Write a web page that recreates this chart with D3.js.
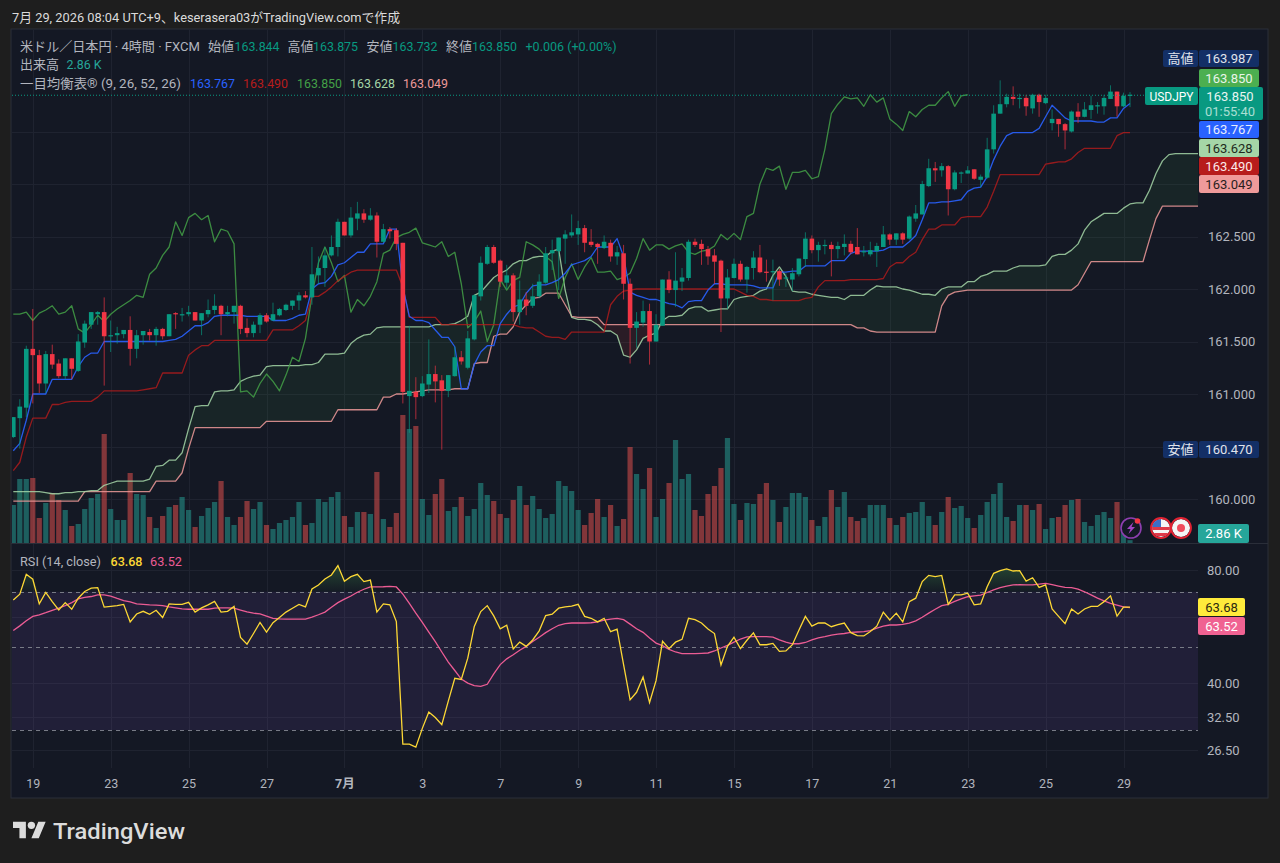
<!DOCTYPE html>
<html lang="ja">
<head>
<meta charset="utf-8">
<title>USDJPY 4H</title>
<script src="https://cdn.jsdelivr.net/npm/d3@7"></script>
<style>
html,body{margin:0;padding:0;background:#1e1e1e;overflow:hidden}
svg{display:block}
text{font-family:Roboto,"Noto Sans CJK JP",sans-serif}
</style>
</head>
<body>
<svg id="c" width="1280" height="863"></svg>
<script>
const open = [
160.59,160.77,160.87,161.43,161.37,161.10,161.38,161.29,161.17,161.34,
161.22,161.49,161.66,161.76,161.78,161.55,161.56,161.57,161.61,161.43,
161.56,161.59,161.56,161.62,161.55,161.77,161.75,161.76,161.78,161.70,
161.76,161.80,161.84,161.76,161.78,161.84,161.63,161.58,161.66,161.75,
161.70,161.75,161.80,161.84,161.89,161.94,161.92,162.13,162.20,162.32,
162.40,162.64,162.51,162.67,162.72,162.66,162.70,162.45,162.57,162.56,
162.44,160.98,161.02,160.98,161.09,161.19,161.13,161.03,161.17,161.35,
161.25,161.52,161.93,162.24,162.40,162.27,162.06,162.13,161.78,161.90,
161.84,161.93,162.06,162.34,162.36,162.48,162.51,162.52,162.58,162.45,
162.43,162.39,162.44,162.31,162.34,162.05,161.63,161.68,161.79,161.50,
161.65,162.09,161.99,162.07,162.105,162.45,162.43,162.38,162.32,162.27,
161.91,162.105,162.24,162.09,162.20,162.30,162.165,162.16,162.17,162.10,
162.09,162.14,162.285,162.48,162.37,162.41,162.42,162.38,162.40,162.43,
162.40,162.35,162.33,162.36,162.40,162.52,162.47,162.53,162.48,162.67,
162.71,162.98,163.15,163.13,163.17,162.95,163.10,163.10,163.14,163.04,
163.06,163.33,163.67,163.76,163.83,163.81,163.82,163.72,163.85,163.77,
163.58,163.62,163.57,163.50,163.69,163.64,163.705,163.743,163.74,163.81,
163.88,163.74,163.844];
const high = [
160.78,160.95,161.46,161.81,161.42,161.41,161.47,161.33,161.34,161.34,
161.57,161.70,161.78,161.79,161.92,161.70,161.64,161.61,161.74,161.61,
161.60,161.62,161.64,161.63,161.76,161.78,161.82,161.84,161.78,161.77,
161.90,161.95,161.85,161.84,161.84,161.85,161.72,161.69,161.77,161.77,
161.87,161.82,161.86,161.89,161.97,161.98,162.40,162.31,162.40,162.51,
162.67,162.64,162.78,162.83,162.76,162.77,162.73,162.62,162.59,162.58,
162.44,161.65,161.16,161.17,161.52,161.27,161.18,161.18,161.45,161.41,
161.60,161.95,162.31,162.42,162.42,162.28,162.23,162.15,162.08,161.97,
162.05,162.14,162.40,162.47,162.49,162.56,162.71,162.65,162.61,162.57,
162.44,162.51,162.47,162.41,162.42,162.10,161.78,161.89,161.86,161.76,
162.09,162.17,162.35,162.20,162.47,162.48,162.47,162.41,162.38,162.28,
162.19,162.29,162.27,162.22,162.36,162.42,162.28,162.28,162.19,162.15,
162.20,162.29,162.54,162.51,162.45,162.47,162.45,162.45,162.52,162.46,
162.58,162.41,162.45,162.44,162.60,162.53,162.53,162.54,162.70,162.80,
163.03,163.24,163.21,163.20,163.18,163.13,163.12,163.17,163.14,163.09,
163.44,163.75,163.987,163.86,163.93,163.86,163.85,163.86,163.86,163.85,
163.71,163.62,163.58,163.70,163.77,163.78,163.84,163.78,163.85,163.94,
163.88,163.87,163.875];
const low = [
160.58,160.48,160.78,160.91,161.01,161.01,161.24,161.15,161.14,161.14,
161.21,161.44,161.62,161.66,161.08,161.40,161.48,161.53,161.27,161.34,
161.47,161.51,161.46,161.52,161.55,161.62,161.69,161.74,161.70,161.56,
161.73,161.76,161.56,161.74,161.67,161.57,161.54,161.54,161.58,161.68,
161.70,161.74,161.79,161.80,161.80,161.91,161.85,162.05,162.02,162.31,
162.31,162.51,162.49,162.56,162.63,162.65,162.30,162.44,162.48,162.37,
160.91,160.63,160.76,160.97,161.01,160.92,160.47,160.97,161.165,161.28,
161.235,161.51,161.89,162.23,162.24,162.02,162.00,161.69,161.66,161.75,
161.82,161.91,162.05,162.18,161.99,162.24,162.49,162.42,162.35,162.40,
162.24,162.38,162.26,162.23,161.90,161.29,161.44,161.64,161.28,161.50,
161.65,161.96,161.83,161.98,162.08,162.40,162.23,162.23,162.05,161.59,
161.81,162.10,162.07,161.965,162.09,162.15,162.07,161.89,162.03,162.02,
161.98,162.12,162.21,162.34,162.26,162.33,162.12,162.29,162.32,162.33,
162.33,162.31,162.31,162.21,162.40,162.42,162.42,162.43,162.47,162.64,
162.71,162.97,163.02,163.07,162.70,162.94,163.01,163.10,163.04,162.97,
163.05,163.29,163.67,163.73,163.75,163.72,163.65,163.67,163.64,163.76,
163.51,163.45,163.33,163.49,163.58,163.635,163.62,163.67,163.66,163.81,
163.64,163.73,163.732];
const close = [
160.78,160.88,161.43,161.37,161.10,161.38,161.28,161.17,161.34,161.24,
161.50,161.67,161.78,161.78,161.55,161.56,161.58,161.61,161.43,161.56,
161.60,161.56,161.62,161.55,161.76,161.76,161.76,161.78,161.70,161.77,
161.80,161.84,161.76,161.78,161.84,161.62,161.58,161.66,161.75,161.69,
161.76,161.81,161.85,161.89,161.94,161.92,162.14,162.20,162.32,162.40,
162.64,162.51,162.68,162.72,162.66,162.70,162.45,162.57,162.55,162.43,
161.02,161.03,160.97,161.10,161.19,161.12,161.03,161.18,161.35,161.31,
161.53,161.94,162.25,162.40,162.25,162.07,162.13,161.78,161.90,161.84,
161.93,162.07,162.34,162.37,162.49,162.52,162.54,162.58,162.44,162.42,
162.40,162.45,162.31,162.35,162.05,161.63,161.69,161.79,161.50,161.66,
162.09,161.99,162.08,162.11,162.45,162.42,162.38,162.31,162.26,161.91,
162.11,162.24,162.09,162.21,162.30,162.16,162.16,162.17,162.09,162.11,
162.15,162.29,162.48,162.37,162.42,162.42,162.38,162.41,162.43,162.35,
162.33,162.36,162.37,162.41,162.52,162.47,162.53,162.47,162.69,162.72,
163.00,163.15,163.13,163.17,162.95,163.11,163.11,163.13,163.05,163.07,
163.33,163.67,163.76,163.83,163.81,163.82,163.74,163.85,163.78,163.82,
163.62,163.57,163.51,163.69,163.64,163.71,163.75,163.75,163.82,163.88,
163.74,163.84,163.85];
const volume = [
38,64,64,65,25,40,50,43,33,17,
19,34,45,49,109,34,23,23,70,49,
48,26,15,27,36,38,46,33,16,27,
35,41,62,26,18,26,42,34,41,18,
14,20,23,26,41,18,20,44,41,46,
51,27,16,31,31,29,71,24,16,30,
128,114,117,44,28,49,64,32,36,46,
27,34,60,48,42,29,25,43,57,38,
47,34,25,29,62,57,52,33,18,30,
44,26,38,17,24,96,69,54,75,26,
44,60,103,64,69,33,27,49,57,75,
105,39,23,40,39,49,60,43,21,36,
50,50,46,23,17,26,53,36,51,26,
22,25,38,38,38,25,18,26,30,31,
41,27,18,31,46,35,37,25,15,28,
41,49,60,26,22,38,38,33,39,14,
25,26,38,43,44,21,17,28,31,25,
41,12,2.86];
const tenkan = [
160.46,160.53,160.75,161.00,161.00,161.00,161.14,161.14,161.14,161.14,
161.26,161.35,161.39,161.39,161.50,161.50,161.50,161.50,161.50,161.50,
161.50,161.50,161.50,161.50,161.51,161.52,161.55,161.60,161.65,161.65,
161.68,161.74,161.75,161.75,161.75,161.75,161.74,161.74,161.74,161.74,
161.70,161.70,161.70,161.72,161.75,161.76,162.00,162.05,162.06,162.12,
162.23,162.25,162.30,162.35,162.35,162.43,162.43,162.43,162.57,162.57,
162.02,161.74,161.70,161.70,161.68,161.61,161.54,161.54,161.45,161.05,
161.05,161.28,161.40,161.46,161.46,161.67,161.76,161.83,161.85,161.96,
162.03,162.04,162.04,162.06,162.09,162.15,162.23,162.25,162.27,162.31,
162.40,162.40,162.40,162.48,162.31,161.97,161.94,161.92,161.90,161.90,
161.88,161.86,161.85,161.82,161.88,161.89,161.89,161.99,162.05,162.05,
162.04,162.04,162.04,162.04,162.03,162.01,162.01,162.01,162.16,162.16,
162.17,162.17,162.22,162.22,162.22,162.22,162.27,162.27,162.27,162.34,
162.36,162.36,162.36,162.36,162.37,162.40,162.40,162.40,162.45,162.51,
162.66,162.82,162.82,162.83,162.83,162.84,162.85,162.93,162.96,162.97,
163.07,163.23,163.36,163.46,163.49,163.49,163.49,163.49,163.53,163.64,
163.75,163.69,163.63,163.60,163.60,163.60,163.60,163.59,163.59,163.63,
163.63,163.72,163.767];
const kijun = [
160.27,160.35,160.59,160.77,160.77,160.77,160.90,160.90,160.92,160.93,
160.93,160.93,160.93,160.97,161.03,161.03,161.03,161.03,161.03,161.03,
161.04,161.05,161.06,161.20,161.20,161.20,161.20,161.37,161.42,161.46,
161.46,161.51,161.51,161.51,161.51,161.51,161.51,161.51,161.51,161.51,
161.61,161.61,161.61,161.61,161.65,161.70,161.93,161.93,161.97,162.02,
162.08,162.12,162.16,162.18,162.18,162.18,162.18,162.18,162.18,162.18,
162.02,161.73,161.73,161.73,161.73,161.73,161.66,161.66,161.66,161.66,
161.66,161.66,161.66,161.66,161.66,161.66,161.66,161.66,161.64,161.63,
161.63,161.59,161.55,161.54,161.54,161.52,161.59,161.59,161.59,161.59,
161.59,161.59,161.85,161.93,161.98,161.99,162.00,162.00,162.00,162.00,
162.00,162.00,162.00,162.00,162.00,162.00,162.00,162.00,162.00,162.00,
162.00,162.00,161.97,161.94,161.93,161.90,161.90,161.89,161.89,161.89,
161.89,161.89,161.91,161.92,162.02,162.08,162.08,162.08,162.08,162.09,
162.09,162.09,162.09,162.09,162.10,162.21,162.25,162.25,162.31,162.35,
162.47,162.57,162.57,162.61,162.61,162.61,162.68,162.69,162.69,162.69,
162.78,162.93,163.09,163.09,163.09,163.09,163.09,163.09,163.09,163.19,
163.20,163.21,163.21,163.24,163.30,163.34,163.34,163.34,163.34,163.34,
163.46,163.49,163.49];
const chikou = [
161.76,161.76,161.78,161.70,161.77,
161.80,161.84,161.76,161.78,161.84,161.62,161.58,161.66,161.75,161.69,
161.76,161.81,161.85,161.89,161.94,161.92,162.14,162.20,162.32,162.40,
162.64,162.51,162.68,162.72,162.66,162.70,162.45,162.57,162.55,162.43,
161.02,161.03,160.97,161.10,161.19,161.12,161.03,161.18,161.35,161.31,
161.53,161.94,162.25,162.40,162.25,162.07,162.13,161.78,161.90,161.84,
161.93,162.07,162.34,162.37,162.49,162.52,162.54,162.58,162.44,162.42,
162.40,162.45,162.31,162.35,162.05,161.63,161.69,161.79,161.50,161.66,
162.09,161.99,162.08,162.11,162.45,162.42,162.38,162.31,162.26,161.91,
162.11,162.24,162.09,162.21,162.30,162.16,162.16,162.17,162.09,162.11,
162.15,162.29,162.48,162.37,162.42,162.42,162.38,162.41,162.43,162.35,
162.33,162.36,162.37,162.41,162.52,162.47,162.53,162.47,162.69,162.72,
163.00,163.15,163.13,163.17,162.95,163.11,163.11,163.13,163.05,163.07,
163.33,163.67,163.76,163.83,163.81,163.82,163.74,163.85,163.78,163.82,
163.62,163.57,163.51,163.69,163.64,163.71,163.75,163.75,163.82,163.88,
163.74,163.84,163.85];
const senkouA = [
160.07,160.07,160.07,160.07,160.07,160.06,160.05,160.05,160.06,160.06,
160.07,160.07,160.08,160.08,160.13,160.15,160.17,160.17,160.17,160.17,
160.17,160.19,160.31,160.32,160.37,160.37,160.44,160.67,160.88,160.89,
160.89,161.02,161.03,161.03,161.04,161.12,161.15,161.17,161.18,161.26,
161.27,161.27,161.27,161.27,161.27,161.28,161.28,161.30,161.38,161.38,
161.38,161.39,161.48,161.53,161.56,161.57,161.63,161.64,161.64,161.64,
161.64,161.64,161.64,161.64,161.64,161.66,161.66,161.66,161.67,161.70,
161.74,161.94,161.97,162.04,162.11,162.15,162.18,162.24,162.27,162.27,
162.30,162.31,162.31,162.36,162.38,161.99,161.73,161.71,161.71,161.70,
161.66,161.60,161.60,161.56,161.37,161.35,161.42,161.53,161.56,161.58,
161.70,161.74,161.74,161.75,161.81,161.83,161.83,161.79,161.80,161.81,
161.81,161.90,161.92,161.93,161.94,161.98,162.00,162.13,162.21,162.12,
161.98,161.97,161.97,161.95,161.94,161.93,161.92,161.92,161.90,161.94,
161.94,161.94,161.99,162.03,162.02,162.02,162.02,162.00,161.99,161.97,
161.95,161.95,161.94,162.00,162.02,162.02,162.02,162.07,162.07,162.12,
162.14,162.17,162.17,162.17,162.20,162.22,162.22,162.22,162.22,162.23,
162.31,162.33,162.33,162.37,162.43,162.56,162.64,162.68,162.72,162.72,
162.72,162.77,162.81,162.82,162.82,162.94,163.10,163.22,163.28,163.29,
163.29,163.29,163.29,163.29];
const senkouB = [
159.98,159.98,159.98,159.98,159.98,159.98,159.98,159.98,159.98,159.98,
159.98,160.07,160.07,160.07,160.07,160.07,160.07,160.07,160.07,160.07,
160.07,160.07,160.17,160.17,160.17,160.17,160.25,160.48,160.68,160.68,
160.68,160.68,160.68,160.68,160.68,160.68,160.68,160.68,160.68,160.74,
160.74,160.74,160.74,160.74,160.74,160.74,160.74,160.74,160.74,160.74,
160.85,160.85,160.85,160.85,160.85,160.85,160.85,160.97,160.97,161.00,
161.00,161.01,161.02,161.03,161.04,161.04,161.04,161.04,161.05,161.05,
161.05,161.29,161.30,161.30,161.55,161.57,161.57,161.64,161.78,161.85,
161.91,161.92,161.96,161.96,161.96,161.85,161.74,161.73,161.73,161.73,
161.73,161.66,161.66,161.66,161.66,161.66,161.66,161.66,161.66,161.66,
161.66,161.66,161.66,161.66,161.66,161.66,161.66,161.66,161.66,161.66,
161.66,161.66,161.66,161.66,161.66,161.66,161.66,161.66,161.66,161.66,
161.66,161.66,161.66,161.66,161.66,161.66,161.66,161.66,161.66,161.66,
161.63,161.63,161.60,161.59,161.59,161.59,161.59,161.59,161.59,161.59,
161.59,161.59,161.59,161.84,161.94,161.97,161.98,161.99,161.99,161.99,
161.99,161.99,161.99,161.99,161.99,161.99,161.99,161.99,161.99,161.99,
161.99,161.99,161.99,161.99,162.04,162.15,162.26,162.26,162.26,162.26,
162.26,162.26,162.26,162.26,162.26,162.47,162.67,162.79,162.79,162.79,
162.79,162.79,162.79,162.79];
const rsi = [
66.6,69.0,77.9,75.6,65.0,69.7,65.9,62.6,65.5,62.9,
67.3,70.1,71.6,71.8,63.7,64.0,64.3,64.8,58.2,61.1,
62.1,61.0,62.5,59.8,65.0,64.8,64.8,65.6,61.8,63.4,
64.6,66.0,61.8,62.1,64.0,52.9,50.8,54.2,58.0,54.7,
57.9,59.8,61.8,63.3,64.8,63.8,71.2,73.0,75.7,77.6,
82.2,74.7,76.8,77.9,74.5,75.2,61.8,65.0,64.6,58.3,
27.5,27.5,27.0,30.3,33.5,32.4,31.0,35.8,41.2,40.9,
46.6,56.6,62.0,64.3,60.4,55.8,57.0,49.3,51.4,50.1,
52.1,55.1,60.5,61.0,63.3,63.8,64.1,64.8,60.2,59.5,
58.2,59.5,54.8,55.7,44.8,36.1,37.8,41.5,35.5,40.6,
51.7,49.4,51.4,52.3,59.5,59.0,57.8,55.7,54.2,44.7,
50.1,53.0,49.4,52.0,54.4,50.6,50.6,51.0,48.6,48.7,
50.6,55.3,60.2,56.7,57.8,57.8,56.5,57.2,57.8,54.5,
53.5,53.4,54.9,56.7,61.8,58.9,61.4,58.2,65.9,67.3,
74.5,77.4,76.8,77.4,64.8,68.7,68.7,69.4,64.6,65.0,
72.2,78.4,79.7,80.5,79.5,79.7,74.7,76.3,71.9,73.0,
63.0,60.2,57.6,63.0,61.1,63.0,64.0,64.0,65.9,68.3,
60.3,63.7,63.68];
const rsiMA = [
55.2,56.8,58.6,60.2,60.8,61.6,62.5,63.3,64.3,65.5,
67.0,67.6,68.0,68.7,68.7,68.2,67.2,66.3,65.8,65.0,
64.8,64.6,64.5,64.3,63.8,63.4,63.0,62.9,62.9,62.9,
62.9,63.3,63.4,63.4,63.3,62.6,61.9,61.4,61.1,60.3,
59.5,59.3,59.2,59.2,59.2,59.2,59.9,60.8,61.8,63.7,
65.5,66.9,68.2,69.8,71.1,72.1,72.1,72.2,72.4,72.1,
69.0,65.2,61.4,58.0,54.7,51.6,48.4,45.5,43.2,41.0,
40.0,39.4,39.2,39.7,42.3,44.8,46.4,47.6,48.9,50.1,
51.6,53.0,54.5,55.8,57.0,57.6,57.8,57.8,57.8,57.9,
58.2,58.8,59.2,59.5,59.0,57.4,55.8,54.6,52.7,51.1,
50.3,49.2,48.4,47.9,47.9,47.9,48.0,48.1,48.7,49.6,
50.4,51.4,52.4,53.1,53.2,53.2,53.2,53.0,52.1,51.4,
50.9,50.9,51.3,52.1,52.8,53.2,53.7,54.0,54.2,54.6,
54.7,54.8,55.2,56.0,56.7,57.1,57.1,57.3,57.8,58.6,
59.9,61.4,62.9,64.3,64.8,66.0,67.0,67.9,68.3,68.6,
69.7,70.8,71.8,72.5,73.0,73.1,73.0,73.0,73.4,73.7,
73.1,72.5,71.9,71.8,71.1,70.0,68.7,67.3,66.2,65.2,
64.5,63.8,63.52];
const dayBars = [3,15,27,39,51,63,75,87,99,111,123,135,147,159,171];
const dayLabels = ["19","23","25","27","7月","3","7","9","11","15","17","21","23","25","29"];
const priceGridTicks = [160,160.5,161,161.5,162,162.5,163,163.5];
const priceTicks = [160,161,161.5,162,162.5];
const rsiTicks = [80,40,32.5,26.5];
const rsiGridTicks = [80,60,40,32.5,26.5];
const rsiBands = [70,50,30];

const C = {outer:"#1e1e1e",bg:"#141824",grid:"#1f2330",frame:"#2a2e39",text:"#b2b5be",
  up:"#089981",down:"#f23645",volUp:"rgba(38,166,154,.5)",volDown:"rgba(239,83,80,.5)",
  tenkan:"#2962ff",kijun:"#b71c1c",chikou:"#43a047",spanA:"#a5d6a7",spanB:"#ef9a9a",
  rsi:"#fdd835",ma:"#ec5c94"};
const W = {l:11,r:1198,fr:1268,top:29,mainB:543,rsiB:768,bot:798};

const x = d3.scaleLinear().domain([0,172]).range([13.3,1130]);
const y = d3.scaleLinear().domain([160,164]).range([499,79]);
const yVol = d3.scaleLinear().domain([0,128]).range([543,415]);
const yRsi = d3.scaleLog().domain([80,30]).range([570,730]);

const svg = d3.select("#c");
const defs = svg.append("defs");
defs.append("clipPath").attr("id","mainClip").append("rect")
  .attr("x",W.l+1).attr("y",W.top+1).attr("width",W.r-W.l-1).attr("height",W.mainB-W.top-1);
defs.append("clipPath").attr("id","rsiClip").append("rect")
  .attr("x",W.l+1).attr("y",W.mainB+1).attr("width",W.r-W.l-1).attr("height",W.rsiB-W.mainB-1);
const ob = defs.append("linearGradient").attr("id","obFill").attr("gradientUnits","userSpaceOnUse")
  .attr("x1",0).attr("x2",0).attr("y1",yRsi(82)).attr("y2",yRsi(70));
ob.append("stop").attr("offset",0).attr("stop-color","#4caf50").attr("stop-opacity",.3);
ob.append("stop").attr("offset",1).attr("stop-color","#4caf50").attr("stop-opacity",.02);

svg.append("rect").attr("width",1280).attr("height",863).attr("fill",C.outer);
svg.append("rect").attr("x",W.l).attr("y",W.top).attr("width",W.fr-W.l).attr("height",W.bot-W.top)
  .attr("fill",C.bg).attr("stroke",C.frame);

function label(parent,tx,ty,str,fill,opt={}){
  const t = parent.append("text").attr("x",tx).attr("y",ty).attr("fill",fill)
    .attr("font-size",opt.size||13).attr("text-anchor",opt.anchor||"start")
    .attr("dominant-baseline","central").text(str);
  if(opt.weight) t.attr("font-weight",opt.weight);
  if(opt.len) t.attr("textLength",opt.len).attr("lengthAdjust","spacingAndGlyphs");
  return t;
}

// header
label(svg,12,17,"7月 29, 2026 08:04 UTC+9、keserasera03がTradingView.comで作成","#dbdbdb",{size:13,len:388});

// grid
const grid = svg.append("g").attr("stroke",C.grid).attr("stroke-width",1);
grid.selectAll(".gx").data(dayBars).join("line").attr("x1",d=>Math.round(x(d))+.5).attr("x2",d=>Math.round(x(d))+.5)
  .attr("y1",W.top+1).attr("y2",W.rsiB);
grid.selectAll(".gy").data(priceGridTicks).join("line").attr("x1",W.l+1).attr("x2",W.r)
  .attr("y1",d=>Math.round(y(d))+.5).attr("y2",d=>Math.round(y(d))+.5);
grid.selectAll(".gr").data(rsiGridTicks).join("line").attr("x1",W.l+1).attr("x2",W.r)
  .attr("y1",d=>Math.round(yRsi(d))+.5).attr("y2",d=>Math.round(yRsi(d))+.5);
svg.append("line").attr("x1",W.l).attr("x2",W.fr).attr("y1",W.mainB+.5).attr("y2",W.mainB+.5).attr("stroke",C.frame);

// main pane
const main = svg.append("g").attr("clip-path","url(#mainClip)");
main.selectAll(".vol").data(volume).join("rect")
  .attr("x",(d,i)=>x(i)-2.6).attr("width",5.2)
  .attr("y",d=>yVol(d)).attr("height",d=>yVol(0)-yVol(d))
  .attr("fill",(d,i)=>close[i]>=open[i]?C.volUp:C.volDown);

const bars = senkouA.map((a,i)=>({i,a,b:senkouB[i]}));
const upper = d3.area().x(d=>x(d.i)).y0(d=>y(d.b)).y1(d=>y(Math.max(d.a,d.b)));
const lower = d3.area().x(d=>x(d.i)).y0(d=>y(d.b)).y1(d=>y(Math.min(d.a,d.b)));
main.append("path").attr("d",upper(bars)).attr("fill","rgba(67,160,71,.1)");
main.append("path").attr("d",lower(bars)).attr("fill","rgba(244,67,54,.1)");

const line = d3.line().x((d,i)=>x(i)).y(d=>y(d));
[[senkouB,C.spanB,.85],[senkouA,C.spanA,.85],[chikou,C.chikou,.85],[kijun,C.kijun,.8],[tenkan,C.tenkan,.9]].forEach(([s,c,o])=>{
  main.append("path").attr("d",line(s)).attr("fill","none").attr("stroke",c).attr("stroke-opacity",o)
    .attr("stroke-width",1.3).attr("stroke-linejoin","round");
});

const candles = main.append("g");
candles.selectAll(".wick").data(close).join("line")
  .attr("x1",(d,i)=>x(i)).attr("x2",(d,i)=>x(i))
  .attr("y1",(d,i)=>y(high[i])).attr("y2",(d,i)=>y(low[i]))
  .attr("stroke",(d,i)=>d>=open[i]?C.up:C.down).attr("stroke-width",1).attr("opacity",.68);
candles.selectAll(".body").data(close).join("rect")
  .attr("x",(d,i)=>x(i)-2.3).attr("width",4.6)
  .attr("y",(d,i)=>Math.min(y(d),y(open[i])))
  .attr("height",(d,i)=>Math.max(1.2,Math.abs(y(d)-y(open[i]))))
  .attr("fill",(d,i)=>d>=open[i]?C.up:C.down);

// last price line
svg.append("line").attr("x1",W.l+1).attr("x2",1146).attr("y1",y(163.85)+.5).attr("y2",y(163.85)+.5)
  .attr("stroke",C.up).attr("stroke-dasharray","1 2");

// legend
const lg = svg.append("g");
label(lg,20,46,"米ドル／日本円 · 4時間 · FXCM",C.text,{len:180});
[["始値",208,"163.844",234.5],["高値",287.5,"163.875",313],["安値",366.5,"163.732",392.5],["終値",446,"163.850",472]]
 .forEach(([k,kx,v,vx])=>{label(lg,kx,46,k,C.text,{len:26});label(lg,vx,46,v,C.up,{len:45});});
label(lg,525.5,46,"+0.006 (+0.00%)",C.up,{len:91});
label(lg,20,64,"出来高",C.text,{len:39});
label(lg,66.5,64,"2.86 K","#26a69a",{len:35});
label(lg,20,83,"一目均衡表® (9, 26, 52, 26)",C.text,{len:161});
[["163.767",190,C.tenkan],["163.490",243,C.kijun],["163.850",297,C.chikou],["163.628",350,C.spanA],["163.049",403,C.spanB]]
 .forEach(([v,vx,c])=>label(lg,vx,83,v,c,{len:45}));

// price axis
const pa = svg.append("g").attr("transform","translate(1208,0)")
  .call(d3.axisRight(y).tickValues(priceTicks).tickSize(0).tickPadding(0).tickFormat(d3.format(".3f")));
pa.select(".domain").remove();
pa.selectAll("text").attr("fill",C.text).attr("font-size",13).attr("font-family",'Roboto,"Noto Sans CJK JP",sans-serif');

// RSI pane
const rp = svg.append("g").attr("clip-path","url(#rsiClip)");
rp.append("rect").attr("x",W.l+1).attr("width",W.r-W.l-1).attr("y",yRsi(70)).attr("height",yRsi(30)-yRsi(70))
  .attr("fill","rgba(126,87,194,.13)");
rp.selectAll(".band").data(rsiBands).join("line").attr("x1",W.l+1).attr("x2",W.r)
  .attr("y1",d=>Math.round(yRsi(d))+.5).attr("y2",d=>Math.round(yRsi(d))+.5)
  .attr("stroke","#787b86").attr("stroke-dasharray","4 4");
const obArea = d3.area().x((d,i)=>x(i)).y0(yRsi(70)).y1(d=>yRsi(Math.max(d,70)));
rp.append("path").attr("d",obArea(rsi)).attr("fill","url(#obFill)");
const rLine = d3.line().x((d,i)=>x(i)).y(d=>yRsi(d));
rp.append("path").attr("d",rLine(rsiMA)).attr("fill","none").attr("stroke",C.ma).attr("stroke-width",1.3);
rp.append("path").attr("d",rLine(rsi)).attr("fill","none").attr("stroke",C.rsi).attr("stroke-width",1.3);

label(svg,20,561,"RSI (14, close)",C.text,{len:81});
label(svg,110.5,561,"63.68",C.rsi,{len:32,weight:500});
label(svg,150,561,"63.52",C.ma,{len:32});

const ra = svg.append("g").attr("transform","translate(1207,0)")
  .call(d3.axisRight(yRsi).tickValues(rsiTicks).tickSize(0).tickPadding(0).tickFormat(d3.format(".2f")));
ra.select(".domain").remove();
ra.selectAll("text").attr("fill",C.text).attr("font-size",13).attr("font-family",'Roboto,"Noto Sans CJK JP",sans-serif');

// time axis
const ta = svg.append("g").attr("transform","translate(0,776)")
  .call(d3.axisBottom(x).tickValues(dayBars).tickSize(0).tickPadding(3).tickFormat((d,i)=>dayLabels[i]));
ta.select(".domain").remove();
ta.selectAll("text").attr("fill",C.text).attr("font-size",12.5).attr("font-family",'Roboto,"Noto Sans CJK JP",sans-serif')
  .attr("font-weight",(d,i)=>dayLabels[i]==="7月"?"700":"400");

// right-hand tags
function tag(tx,ty,w,h,fill,str,color,opt={}){
  svg.append("rect").attr("x",tx).attr("y",ty).attr("width",w).attr("height",h).attr("rx",2).attr("fill",fill);
  if(str) label(svg,opt.cx||tx+w/2,opt.ty||ty+h/2,str,color,{anchor:"middle",size:13,...opt});
}
const navy="#132f66";
tag(1163,50,35,17,navy,"高値","#e0e3eb");
tag(1199,50,60,17,navy,"163.987","#e0e3eb");
tag(1199,69,60,18,"#4caf50","163.850","#e8f5e9");
tag(1145,87,53,18,C.up,"USDJPY","#ffffff",{len:44});
tag(1199,87,64,33,C.up,"163.850","#e8f5f2",{cx:1230,ty:96});
label(svg,1230,111,"01:55:40","#a9dfd4",{anchor:"middle",size:13});
tag(1199,121,60,17,C.tenkan,"163.767","#e8eeff");
tag(1199,139,60,18,C.spanA,"163.628","#1f2b20");
tag(1199,157,60,18,C.kijun,"163.490","#fbe9e9");
tag(1199,175,60,18,C.spanB,"163.049","#2a1e1e");
tag(1163,441,35,17,navy,"安値","#e0e3eb");
tag(1199,441,60,17,navy,"160.470","#e0e3eb");
tag(1198,524,51,19,"#26a69a","2.86 K","#ffffff");
tag(1198,598,47,18,"#ffeb3b","63.68","#2a2a10");
tag(1198,617,47,18,"#f06292","63.52","#ffffff");

// bottom-right icons
const icons = svg.append("g");
icons.append("circle").attr("cx",1131).attr("cy",528).attr("r",10).attr("fill","#141824").attr("stroke","#8e3fb0").attr("stroke-width",1.6);
icons.append("path").attr("transform","translate(1131,528)").attr("d","M2.5,-6 L-4,1 L-0.5,1 L-2.5,6 L4,-1 L0.5,-1 Z").attr("fill","#a044c4");
icons.append("circle").attr("cx",1137.5).attr("cy",521).attr("r",2.8).attr("fill","#f23645");
defs.append("clipPath").attr("id","usClip").append("circle").attr("cx",1161).attr("cy",528).attr("r",9);
const us = icons.append("g").attr("clip-path","url(#usClip)");
us.append("rect").attr("x",1152).attr("y",519).attr("width",18).attr("height",18).attr("fill","#f5f5f5");
us.append("rect").attr("x",1152).attr("y",527).attr("width",18).attr("height",3).attr("fill","#e0394a");
us.append("rect").attr("x",1152).attr("y",533).attr("width",18).attr("height",3).attr("fill","#e0394a");
us.append("rect").attr("x",1152).attr("y",519).attr("width",9).attr("height",8).attr("fill","#3d6fc7");
icons.append("circle").attr("cx",1181).attr("cy",528).attr("r",9).attr("fill","#f5f5f5");
icons.append("circle").attr("cx",1181).attr("cy",528).attr("r",4).attr("fill","#f04a5c");
icons.append("circle").attr("cx",1161).attr("cy",528).attr("r",10).attr("fill","none").attr("stroke","#e22232").attr("stroke-width",1.8);
icons.append("circle").attr("cx",1181).attr("cy",528).attr("r",10).attr("fill","none").attr("stroke","#e22232").attr("stroke-width",1.8);

// logo
const logo = svg.append("g").attr("transform","translate(13,818) scale(.92)").attr("fill","#dcdcdc");
logo.append("path").attr("d","M14 22H7V11H0V4h14v18zM28 22h-8l7.5-18h8L28 22z");
logo.append("circle").attr("cx",20).attr("cy",8).attr("r",4);
label(svg,53,831,"TradingView","#dcdcdc",{size:22,weight:500,len:132});
</script>
</body>
</html>
